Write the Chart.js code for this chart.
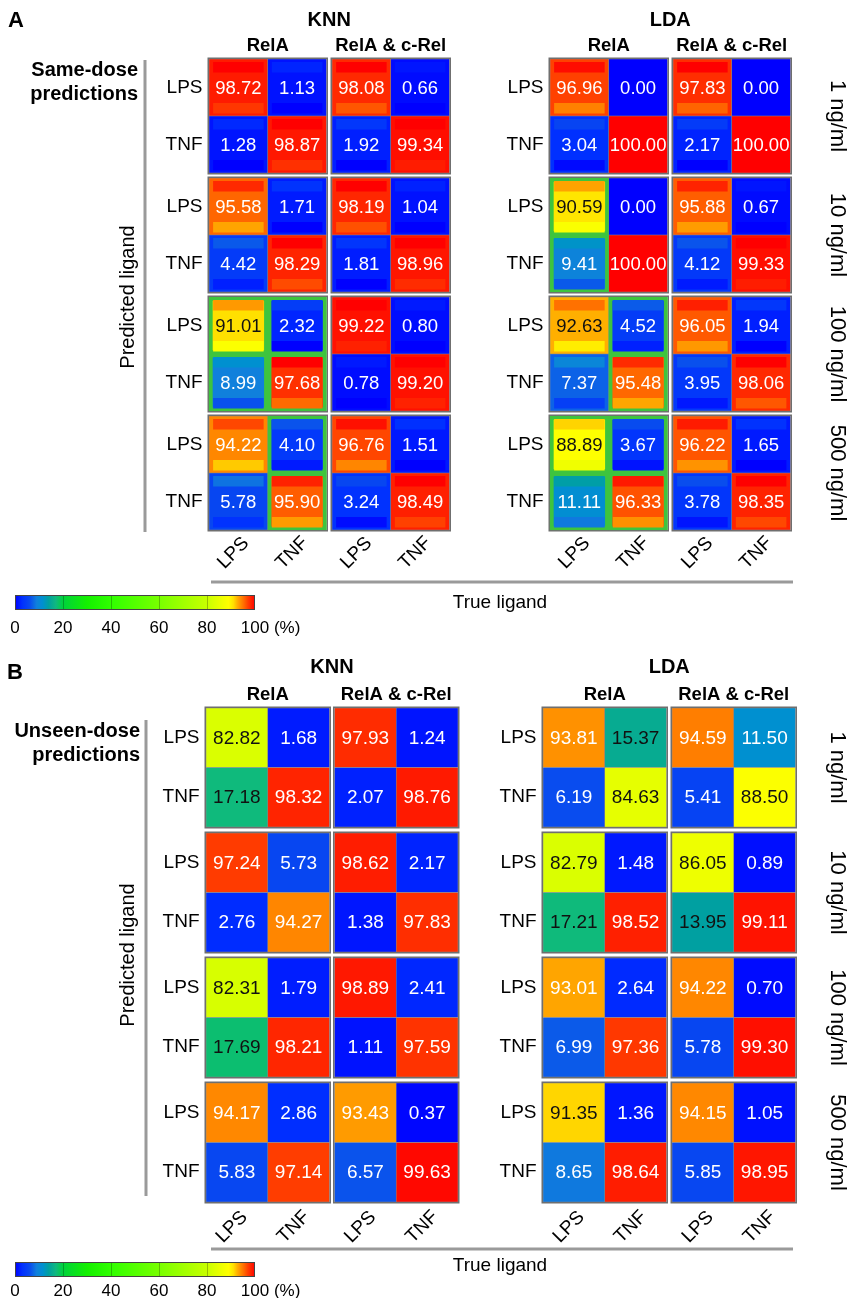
<!DOCTYPE html>
<html>
<head>
<meta charset="utf-8">
<script src="https://cdn.jsdelivr.net/npm/chart.js@4.4.1/dist/chart.umd.min.js"></script>
<style>
  html, body { margin: 0; padding: 0; background: #fff; }
  .panel { position: relative; width: 851px; }
  #panelA { height: 640px; }
  #panelB { height: 658px; }
</style>
</head>
<body>
<div class="panel" id="panelA"><canvas id="chartA"></canvas></div>
<div class="panel" id="panelB"><canvas id="chartB"></canvas></div>
<script>
// categories
const classifiers = ['KNN', 'LDA'];
const featureSets = ['RelA', 'RelA & c-Rel'];
const doses = ['1 ng/ml', '10 ng/ml', '100 ng/ml', '500 ng/ml'];
const ligands = ['LPS', 'TNF'];
const colorTicks = [0, 20, 40, 60, 80, 100];

// % per dose, order: predLPS/trueLPS, predLPS/trueTNF, predTNF/trueLPS, predTNF/trueTNF
const sameKnnRelA = [98.72, 1.13, 1.28, 98.87, 95.58, 1.71, 4.42, 98.29, 91.01, 2.32, 8.99, 97.68, 94.22, 4.10, 5.78, 95.90];
const sameKnnBoth = [98.08, 0.66, 1.92, 99.34, 98.19, 1.04, 1.81, 98.96, 99.22, 0.80, 0.78, 99.20, 96.76, 1.51, 3.24, 98.49];
const sameLdaRelA = [96.96, 0.00, 3.04, 100.00, 90.59, 0.00, 9.41, 100.00, 92.63, 4.52, 7.37, 95.48, 88.89, 3.67, 11.11, 96.33];
const sameLdaBoth = [97.83, 0.00, 2.17, 100.00, 95.88, 0.67, 4.12, 99.33, 96.05, 1.94, 3.95, 98.06, 96.22, 1.65, 3.78, 98.35];

const unseenKnnRelA = [82.82, 1.68, 17.18, 98.32, 97.24, 5.73, 2.76, 94.27, 82.31, 1.79, 17.69, 98.21, 94.17, 2.86, 5.83, 97.14];
const unseenKnnBoth = [97.93, 1.24, 2.07, 98.76, 98.62, 2.17, 1.38, 97.83, 98.89, 2.41, 1.11, 97.59, 93.43, 0.37, 6.57, 99.63];
const unseenLdaRelA = [93.81, 15.37, 6.19, 84.63, 82.79, 1.48, 17.21, 98.52, 93.01, 2.64, 6.99, 97.36, 91.35, 1.36, 8.65, 98.64];
const unseenLdaBoth = [94.59, 11.50, 5.41, 88.50, 86.05, 0.89, 13.95, 99.11, 94.22, 0.70, 5.78, 99.30, 94.15, 1.05, 5.85, 98.95];

// cells outlined in green (index into the arrays above)
const sameKnnRelAMarked = [8, 9, 10, 11, 13, 15];
const sameLdaRelAMarked = [4, 6, 9, 11, 12, 13, 14, 15];

const FONT = '"Liberation Sans", Arial, Helvetica, sans-serif';

// colour map: value, r, g, b
const CMAP = [
  [0, 0, 0, 255], [3, 0, 48, 255], [6, 8, 72, 240], [9, 16, 128, 220],
  [11.5, 0, 144, 208], [14, 0, 160, 160], [17, 16, 184, 128], [20, 0, 210, 60],
  [30, 20, 240, 0], [40, 48, 255, 0], [60, 120, 255, 0], [80, 200, 255, 0],
  [85, 232, 255, 0], [89, 255, 255, 0], [91, 255, 224, 0], [92.6, 255, 176, 0],
  [94, 255, 140, 0], [95.5, 255, 104, 0], [97, 255, 64, 0], [98.5, 255, 32, 0],
  [100, 255, 0, 0]
];

function cmap(v) {
  for (let i = 1; i < CMAP.length; i++) {
    if (v <= CMAP[i][0]) {
      const a = CMAP[i - 1], b = CMAP[i];
      const t = (v - a[0]) / (b[0] - a[0]);
      const c = [1, 2, 3].map(j => Math.round(a[j] + t * (b[j] - a[j])));
      return 'rgb(' + c.join(',') + ')';
    }
  }
  return 'rgb(255,0,0)';
}

const panelA = {
  canvas: 'chartA', top: 0, height: 640, letter: 'A', letterPos: [16, 21],
  sideTitle: ['Same-dose', 'predictions'], sideRight: 138, sideBase: [76, 100],
  blocks: [sameKnnRelA, sameKnnBoth, sameLdaRelA, sameLdaBoth],
  marks: [sameKnnRelAMarked, [], sameLdaRelAMarked, []],
  bands: true,
  blockLeft: [209, 332, 550, 673], cellW: 58.75, rowTop: 59, cellH: 57, groupStep: 119,
  classY: 20, featY: 46, bracketX: 145, bracketY: [60, 532], predY: 297,
  colLabelDy: 23, lineY: 582, trueY: 603, barY: [595, 610], barLabelY: 628, numFont: 18.5
};

const panelB = {
  canvas: 'chartB', top: 640, height: 658, letter: 'B', letterPos: [15, 673],
  sideTitle: ['Unseen-dose', 'predictions'], sideRight: 140, sideBase: [737, 761],
  blocks: [unseenKnnRelA, unseenKnnBoth, unseenLdaRelA, unseenLdaBoth],
  marks: [[], [], [], []],
  bands: false,
  blockLeft: [206, 334.5, 543, 672], cellW: 61.75, rowTop: 708, cellH: 59.5, groupStep: 125,
  classY: 667, featY: 695, bracketX: 146, bracketY: [720, 1196], predY: 955,
  colLabelDy: 25, lineY: 1249, trueY: 1266, barY: [1262, 1277], barLabelY: 1291, numFont: 19
};

function buildCells(p) {
  const cells = [], top = [], bottom = [];
  p.blocks.forEach((vals, b) => {
    vals.forEach((v, k) => {
      const dose = Math.floor(k / 4), row = Math.floor((k % 4) / 2), col = k % 2;
      const x = p.blockLeft[b] + (col + 0.5) * p.cellW;
      const y0 = p.rowTop + dose * p.groupStep + row * p.cellH - p.top;
      cells.push({ x: x, y: [y0, y0 + p.cellH], v: v, marked: p.marks[b].indexOf(k) >= 0 });
      const d = Math.min(2.5, v, 100 - v);
      if (p.bands && d > 0) {
        top.push({ x: x, y: [y0 + 3, y0 + 13.5], v: v + d });
        bottom.push({ x: x, y: [y0 + p.cellH - 13, y0 + p.cellH - 2.5], v: v - d });
      }
    });
  });
  return { cells, top, bottom };
}

function text(ctx, str, x, y, font, align, angle) {
  ctx.save();
  ctx.translate(x, y);
  if (angle) ctx.rotate(angle);
  ctx.font = font;
  ctx.textAlign = align || 'center';
  ctx.textBaseline = 'middle';
  ctx.fillText(str, 0, 0);
  ctx.restore();
}

function decor(p) {
  return {
    id: 'decor',
    beforeDatasetsDraw(chart) {
      const ctx = chart.ctx, X = v => chart.scales.x.getPixelForValue(v),
        Y = v => chart.scales.y.getPixelForValue(v - p.top);
      ctx.save();
      ctx.strokeStyle = '#6f6f6f';
      ctx.lineWidth = 1.5;
      p.blockLeft.forEach(l => {
        doses.forEach((d, i) => {
          const t = p.rowTop + i * p.groupStep;
          const x0 = X(l), x1 = X(l + 2 * p.cellW), y0 = Y(t), y1 = Y(t + 2 * p.cellH);
          ctx.strokeRect(x0 - 0.75, y0 - 0.75, x1 - x0 + 1.5, y1 - y0 + 1.5);
        });
      });
      ctx.restore();
    },
    afterDatasetsDraw(chart) {
      const ctx = chart.ctx, X = v => chart.scales.x.getPixelForValue(v),
        Y = v => chart.scales.y.getPixelForValue(v - p.top);
      // cell numbers
      const idx = chart.data.datasets.findIndex(d => d.label === 'cells');
      const meta = chart.getDatasetMeta(idx);
      ctx.save();
      meta.data.forEach((el, i) => {
        const v = chart.data.datasets[idx].data[i].v;
        ctx.fillStyle = (v > 12 && v < 93) ? '#111' : '#fff';
        text(ctx, v.toFixed(2), el.x, (el.y + el.base) / 2 + 1, p.numFont + 'px ' + FONT);
      });
      ctx.fillStyle = '#000';
      // panel letter and titles
      text(ctx, p.letter, X(p.letterPos[0]), Y(p.letterPos[1]), 'bold 22px ' + FONT);
      classifiers.forEach((c, i) => {
        const l = p.blockLeft[2 * i], r = p.blockLeft[2 * i + 1] + 2 * p.cellW;
        text(ctx, c, X((l + r) / 2), Y(p.classY), 'bold 20px ' + FONT);
      });
      p.blockLeft.forEach((l, b) => {
        text(ctx, featureSets[b % 2], X(l + p.cellW), Y(p.featY), 'bold 18.5px ' + FONT);
      });
      ctx.save();
      ctx.font = 'bold 20px ' + FONT;
      ctx.textAlign = 'right';
      ctx.textBaseline = 'alphabetic';
      p.sideTitle.forEach((s, i) => ctx.fillText(s, X(p.sideRight), Y(p.sideBase[i])));
      ctx.restore();
      // brackets
      ctx.strokeStyle = '#9a9a9a';
      ctx.lineWidth = 3;
      ctx.beginPath();
      ctx.moveTo(X(p.bracketX), Y(p.bracketY[0]));
      ctx.lineTo(X(p.bracketX), Y(p.bracketY[1]));
      ctx.moveTo(X(211), Y(p.lineY));
      ctx.lineTo(X(793), Y(p.lineY));
      ctx.stroke();
      text(ctx, 'Predicted ligand', X(128), Y(p.predY), '20px ' + FONT, 'center', -Math.PI / 2);
      text(ctx, 'True ligand', X(500), Y(p.trueY), '19px ' + FONT);
      // row labels, dose labels, column labels
      const bottom = p.rowTop + 3 * p.groupStep + 2 * p.cellH;
      doses.forEach((d, i) => {
        const t = p.rowTop + i * p.groupStep;
        [0, 2].forEach(b => {
          ligands.forEach((lg, r) => {
            text(ctx, lg, X(p.blockLeft[b] - 6.5), Y(t + (r + 0.5) * p.cellH), '19px ' + FONT, 'right');
          });
        });
        text(ctx, d, X(837), Y(t + p.cellH), '22px ' + FONT, 'center', Math.PI / 2);
      });
      p.blockLeft.forEach(l => {
        ligands.forEach((lg, c) => {
          text(ctx, lg, X(l + (c + 0.5) * p.cellW - 5), Y(bottom + p.colLabelDy), '19px ' + FONT, 'center', -Math.PI / 4);
        });
      });
      // colour bar
      const bx0 = X(15), bx1 = X(255), by0 = Y(p.barY[0]), by1 = Y(p.barY[1]);
      const g = ctx.createLinearGradient(bx0, 0, bx1, 0);
      CMAP.forEach(a => g.addColorStop(a[0] / 100, cmap(a[0])));
      ctx.fillStyle = g;
      ctx.fillRect(bx0, by0, bx1 - bx0, by1 - by0);
      ctx.strokeStyle = 'rgba(0,0,0,0.25)';
      ctx.lineWidth = 1;
      colorTicks.slice(1, -1).forEach(t => {
        const x = Math.round(bx0 + (bx1 - bx0) * t / 100) + 0.5;
        ctx.beginPath(); ctx.moveTo(x, by0); ctx.lineTo(x, by1); ctx.stroke();
      });
      ctx.strokeStyle = '#444';
      ctx.strokeRect(bx0 + 0.5, by0 + 0.5, bx1 - bx0 - 1, by1 - by0 - 1);
      ctx.fillStyle = '#000';
      ctx.font = '17px ' + FONT;
      colorTicks.forEach((t, i) => {
        const x = bx0 + (bx1 - bx0) * t / 100;
        if (i === colorTicks.length - 1) {
          const w = ctx.measureText(String(t)).width;
          text(ctx, t + ' (%)', x - w / 2, Y(p.barLabelY), '17px ' + FONT, 'left');
        } else {
          text(ctx, String(t), x, Y(p.barLabelY), '17px ' + FONT);
        }
      });
      ctx.restore();
    }
  };
}

function drawPanel(p) {
  const d = buildCells(p);
  const datasets = [{
    label: 'cells', data: d.cells, order: 2,
    grouped: false, barPercentage: 1, categoryPercentage: 1, borderSkipped: false,
    backgroundColor: c => c.raw ? cmap(c.raw.v) : '#00f',
    borderColor: c => (c.raw && c.raw.marked) ? '#3ec43e' : 'rgba(125,125,125,0.9)',
    borderWidth: c => (c.raw && c.raw.marked) ? 4 : 0.6
  }];
  if (p.bands) {
    [d.top, d.bottom].forEach((arr, i) => datasets.push({
      label: i ? 'low' : 'high', data: arr, order: 1,
      grouped: false, barPercentage: 0.86, categoryPercentage: 1, borderWidth: 0,
      backgroundColor: c => c.raw ? cmap(c.raw.v) : '#00f'
    }));
  }
  const ctx = document.getElementById(p.canvas).getContext('2d');
  return new Chart(ctx, {
    type: 'bar',
    data: { datasets: datasets },
    options: {
      responsive: true, maintainAspectRatio: false, animation: false, events: [],
      layout: { padding: 0 },
      plugins: { legend: { display: false }, tooltip: { enabled: false } },
      scales: {
        x: { type: 'linear', display: false, min: 0, max: 851, offset: false, ticks: { stepSize: 1000 } },
        y: { type: 'linear', display: false, min: 0, max: p.height, reverse: true, ticks: { stepSize: 1000 } }
      }
    },
    plugins: [decor(p)]
  });
}

drawPanel(panelA);
drawPanel(panelB);
</script>
</body>
</html>
